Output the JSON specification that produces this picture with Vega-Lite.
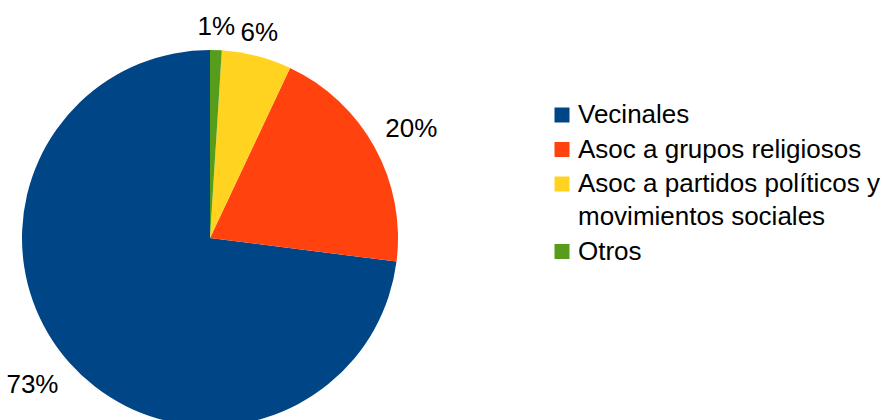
{
  "$schema": "https://vega.github.io/schema/vega-lite/v6.json",
  "width": 420,
  "height": 476,
  "padding": 0,
  "background": "white",
  "config": {
    "view": {"stroke": null},
    "font": "Liberation Sans",
    "style": {"guide-label": {"lineHeight": 33}}
  },
  "data": {"values": [
    {"cat": "Vecinales", "share": 0.73},
    {"cat": "Asoc a grupos religiosos", "share": 0.20},
    {"cat": "Asoc a partidos políticos y movimientos sociales", "share": 0.06},
    {"cat": "Otros", "share": 0.01}
  ]},
  "encoding": {
    "theta": {"field": "share", "type": "quantitative", "stack": true},
    "order": {"field": "share", "type": "quantitative", "sort": "ascending"}
  },
  "layer": [
    {
      "mark": {"type": "arc", "outerRadius": 188},
      "encoding": {
        "color": {
          "field": "cat", "type": "nominal",
          "scale": {
            "domain": ["Vecinales", "Asoc a grupos religiosos", "Asoc a partidos políticos y movimientos sociales", "Otros"],
            "range": ["#004586", "#ff420e", "#ffd320", "#579d1c"]
          },
          "legend": {
            "title": null,
            "orient": "none",
            "legendX": 549,
            "legendY": 102,
            "symbolType": "square",
            "symbolSize": 225,
            "symbolStrokeWidth": 0,
            "labelFontSize": 26,
            "labelFont": "Liberation Sans",
            "labelColor": "black",
            "labelLimit": 400,
            "labelOffset": 3,
            "rowPadding": 8.5,
            "labelExpr": "datum.label == 'Asoc a partidos políticos y movimientos sociales' ? ['Asoc a partidos políticos y', 'movimientos sociales'] : datum.label"
          }
        }
      }
    },
    {
      "mark": {"type": "text", "radius": 198, "align": "center", "baseline": "bottom", "fontSize": 26, "font": "Liberation Sans", "color": "black"},
      "encoding": {
        "text": {"field": "share", "type": "quantitative", "format": ".0%"},
        "opacity": {"condition": {"test": "datum.share < 0.1", "value": 1}, "value": 0}
      }
    },
    {
      "mark": {"type": "text", "radius": 200, "align": "left", "baseline": "bottom", "fontSize": 26, "font": "Liberation Sans", "color": "black"},
      "encoding": {
        "text": {"field": "share", "type": "quantitative", "format": ".0%"},
        "opacity": {"condition": {"test": "datum.share > 0.1 && datum.share < 0.5", "value": 1}, "value": 0}
      }
    },
    {
      "mark": {"type": "text", "radius": 202, "align": "right", "baseline": "top", "fontSize": 26, "font": "Liberation Sans", "color": "black"},
      "encoding": {
        "text": {"field": "share", "type": "quantitative", "format": ".0%"},
        "opacity": {"condition": {"test": "datum.share > 0.5", "value": 1}, "value": 0}
      }
    }
  ]
}
